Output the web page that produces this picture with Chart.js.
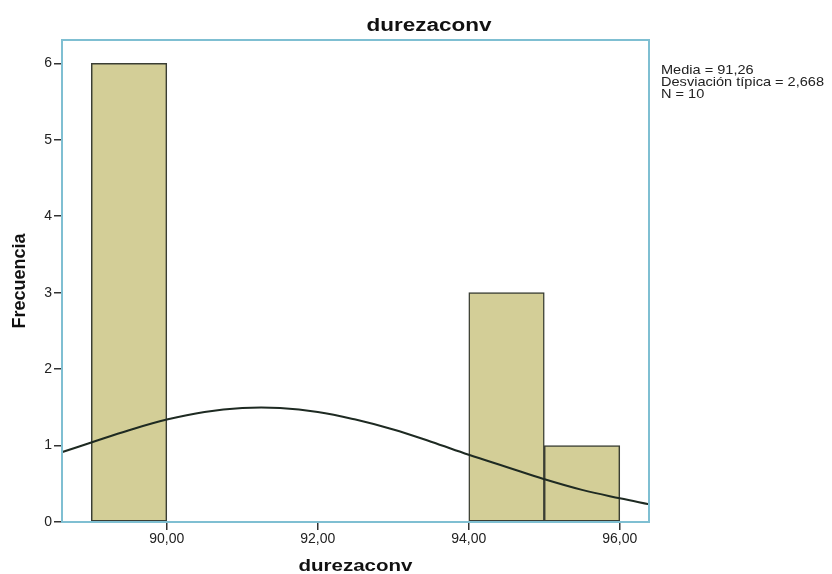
<!DOCTYPE html>
<html>
<head>
<meta charset="utf-8">
<script src="https://cdn.jsdelivr.net/npm/chart.js@4"></script>
<style>
  html, body { margin: 0; padding: 0; background: #fff; }
  #wrap { width: 832px; height: 574px; position: relative; }
</style>
</head>
<body>
<div id="wrap"><canvas id="c" width="832" height="574"></canvas></div>
<script>
// ---- data ----
const chartTitle = "durezaconv";
const xAxisTitle = "durezaconv";
const yAxisTitle = "Frecuencia";
const binCenters = [89.5, 94.5, 95.5];
const binCounts = [6, 3, 1];
const curveX = [88.6, 89.0, 89.5, 90.0, 90.5, 91.0, 91.5, 92.0, 92.5, 93.0, 93.5, 94.0, 94.5, 95.0, 95.5, 96.0, 96.4];
const curveY = [0.91, 1.04, 1.20, 1.34, 1.44, 1.49, 1.49, 1.44, 1.34, 1.21, 1.05, 0.88, 0.72, 0.56, 0.42, 0.31, 0.23];
const xTicks = [90, 92, 94, 96];
const yTicks = [0, 1, 2, 3, 4, 5, 6];
const statsLines = ["Media = 91,26", "Desviación típica = 2,668", "N = 10"];

const FONT = "'Liberation Sans', Arial, sans-serif";
const FRAME = "#7fbfd2";

function stretchText(ctx, text, cx, cy, targetW) {
  const w = ctx.measureText(text).width;
  const k = targetW / w;
  ctx.save();
  ctx.translate(cx, cy);
  ctx.scale(k, 1);
  ctx.fillText(text, 0, 0);
  ctx.restore();
}

const textPlugin = {
  id: 'texts',
  afterDraw(chart) {
    const ctx = chart.ctx;
    const a = chart.chartArea;
    ctx.save();
    // frame
    ctx.strokeStyle = FRAME;
    ctx.lineWidth = 2;
    ctx.strokeRect(a.left, a.top, a.right - a.left, a.bottom - a.top);
    ctx.fillStyle = "#111";
    // title
    ctx.font = "bold 18px " + FONT;
    ctx.textAlign = "center";
    ctx.textBaseline = "middle";
    stretchText(ctx, chartTitle, 429, 26, 125);
    // x title
    ctx.font = "bold 17px " + FONT;
    stretchText(ctx, xAxisTitle, (a.left + a.right) / 2, 566, 114);
    // y title
    ctx.save();
    ctx.translate(20, (a.top + a.bottom) / 2);
    ctx.rotate(-Math.PI / 2);
    ctx.font = "bold 18px " + FONT;
    ctx.fillText(yAxisTitle, 0, 0);
    ctx.restore();
    // stats
    ctx.font = "13px " + FONT;
    ctx.fillStyle = "#222";
    ctx.textAlign = "left";
    ctx.textBaseline = "alphabetic";
    const k = 163 / ctx.measureText(statsLines[1]).width;
    statsLines.forEach((s, i) => {
      ctx.save();
      ctx.translate(a.right + 12, 73.5 + i * 12.3);
      ctx.scale(k, 1);
      ctx.fillText(s, 0, 0);
      ctx.restore();
    });
    ctx.restore();
  }
};

new Chart(document.getElementById('c'), {
  type: 'bar',
  data: {
    datasets: [
      {
        type: 'line',
        data: curveX.map((x, i) => ({ x: x, y: curveY[i] })),
        borderColor: '#1e2a22',
        borderWidth: 2,
        pointRadius: 0,
        tension: 0.4,
        fill: false,
        order: 0
      },
      {
        type: 'bar',
        data: binCenters.map((x, i) => ({ x: x, y: binCounts[i] })),
        backgroundColor: '#d3ce97',
        borderColor: '#3a3e34',
        borderWidth: 1.5,
        borderSkipped: false,
        barPercentage: 1,
        categoryPercentage: 1,
        grouped: false,
        order: 1
      }
    ]
  },
  options: {
    responsive: false,
    animation: false,
    layout: { padding: { left: 0, top: 40, right: 183, bottom: 0 } },
    plugins: { legend: { display: false }, title: { display: false }, tooltip: { enabled: false } },
    scales: {
      x: {
        type: 'linear',
        offset: false,
        min: 88.612,
        max: 96.387,
        afterBuildTicks(s) { s.ticks = xTicks.map(v => ({ value: v })); },
        afterFit(s) { s.height = 52; },
        ticks: {
          color: '#222',
          font: { family: FONT, size: 14 },
          padding: 1,
          maxRotation: 0,
          callback: v => v.toFixed(2).replace('.', ',')
        },
        grid: { offset: false, drawOnChartArea: false, color: '#333', tickLength: 8, lineWidth: 1.5 },
        border: { color: FRAME, width: 2 }
      },
      y: {
        min: 0,
        max: 6.305,
        afterBuildTicks(s) { s.ticks = yTicks.map(v => ({ value: v })); },
        afterFit(s) { s.width = 62; },
        ticks: {
          color: '#222',
          font: { family: FONT, size: 14 },
          padding: 2
        },
        grid: { drawOnChartArea: false, color: '#333', tickLength: 8, lineWidth: 1.5 },
        border: { color: FRAME, width: 2 }
      }
    }
  },
  plugins: [textPlugin]
});
</script>
</body>
</html>
